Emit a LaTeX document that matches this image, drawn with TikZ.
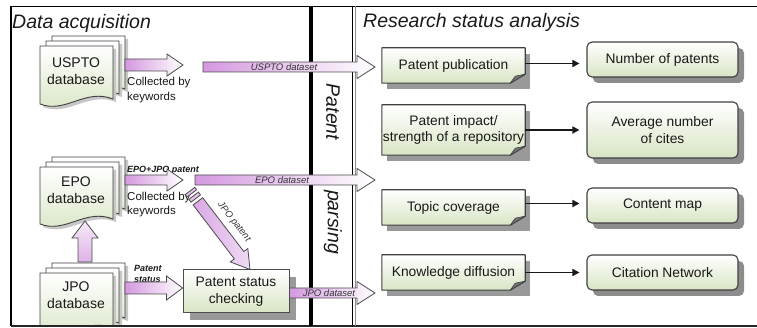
\documentclass[tikz,border=0pt]{standalone}
\usepackage{fontspec}
\setmainfont{Liberation Sans}
\usetikzlibrary{calc,shadows,backgrounds,arrows.meta}
\definecolor{arrowpink}{RGB}{212,152,224}
\definecolor{boxgreen}{RGB}{216,229,196}
\definecolor{txt}{RGB}{25,25,25}

\newcommand\fatarrow[6][]{%
  \coordinate (fa-n) at ($(#3)!#6!(#2)$);
  \path[fatbase,#1] ($(#2)!#4!90:(#3)$) -- ($(fa-n)!#4!90:(#3)$) -- ($(fa-n)!#5!90:(#3)$) -- (#3)
    -- ($(fa-n)!#5!-90:(#3)$) -- ($(fa-n)!#4!-90:(#3)$) -- ($(#2)!#4!-90:(#3)$) -- cycle;}

\newcommand\fatbar[4][]{%
  \path[fatbase,#1] ($(#2)!#4!90:(#3)$) -- ($(#3)!#4!-90:(#2)$) -- ($(#3)!#4!90:(#2)$) -- ($(#2)!#4!-90:(#3)$) -- cycle;}

\newcommand\docpage[4]{%
  \fill[black!22] (#1+3,#2+3) -- (#1+#3+3,#2+3) -- (#1+#3+3,#2+#4-2) .. controls (#1+0.62*#3+3,#2+#4-13) and (#1+0.35*#3+3,#2+#4+13) .. (#1+3,#2+#4+3) -- cycle;
  \path[docpage] (#1,#2) -- (#1+#3,#2) -- (#1+#3,#2+#4-5) .. controls (#1+0.62*#3,#2+#4-16) and (#1+0.35*#3,#2+#4+10) .. (#1,#2+#4) -- cycle;}

\newcommand\foldbox[1]{%
  \fill[black!40] ($(#1.north west)+(5,6)$) rectangle ($(#1.south east)+(5,6)$);
  \draw[black!75, line width=1.1pt, top color=white, bottom color=boxgreen, line join=round]
    (#1.north west) -- (#1.north east) -- ($(#1.south east)+(0,-9)$) -- ($(#1.south east)+(-15,0)$) -- (#1.south west) -- cycle;
  \filldraw[fill=black!55, draw=black!75, line width=0.6pt, line join=round]
    ($(#1.south east)+(0,-9)$) -- ($(#1.south east)+(-15,0)$) -- ($(#1.south east)+(-10,-7)$) -- cycle;}

\begin{document}
\begin{tikzpicture}[x=1pt,y=-1pt,
  lbl/.style={font=\fontsize{13.8}{16.5}\selectfont, align=center, text=txt},
  rbox/.style={lbl, draw=black!75, line width=1.1pt, rounded corners=5pt, top color=white, bottom color=boxgreen, minimum width=151pt, inner sep=1pt, drop shadow={shadow xshift=6pt, shadow yshift=-6pt, fill=black!45, opacity=1}},
  sbox/.style={lbl, draw=black!70, line width=1pt, top color=white, bottom color=boxgreen, inner sep=1pt, drop shadow={shadow xshift=7pt, shadow yshift=-7pt, fill=black!40, opacity=1}},
  fbox/.style={lbl, minimum width=143pt, inner sep=0pt},
  doctext/.style={font=\fontsize{14}{17}\selectfont, align=center, text=txt},
  docpage/.style={draw=black!75, line width=0.9pt, top color=white, bottom color=boxgreen},
  fatbase/.style={draw=black!70, line width=0.8pt, line join=miter},
  hpink/.style={left color=arrowpink, right color=white},
  smalltxt/.style={font=\fontsize{11.5}{14.5}\selectfont, align=left, text=txt, inner sep=0pt},
  dlabel/.style={font=\fontsize{9.5}{11}\selectfont\itshape, text=black!80, inner sep=0pt},
  blabel/.style={font=\fontsize{9}{11}\selectfont\bfseries\itshape, align=left, text=txt, inner sep=0pt},
  ttl/.style={font=\fontsize{19.5}{22}\selectfont\itshape, text=txt, inner sep=0pt},
  link/.style={line width=1.6pt, black!90, -{Triangle[length=7pt,width=7pt]}, shorten >=7pt}
]
\useasboundingbox (0,0) rectangle (757,328);

% frames
\draw[line width=1.5pt] (11,6.5) -- (757,6.5);
\draw[line width=1.8pt] (11,6) -- (11,326);
\draw[line width=1.8pt, black!85] (11,326) -- (757,326);
\draw[line width=3.5pt] (311,6) -- (311,326);
\draw[line width=1.2pt] (352.5,6) -- (352.5,326);
\draw[line width=1.2pt, black!45] (355.5,6) -- (355.5,326);

% titles
\node[ttl, anchor=base west] (t1) at (12,29) {Data acquisition};
\node[ttl, anchor=base west] (t2) at (363,28) {Research status analysis};
\node[ttl, rotate=-90] (mid1) at (333,112) {Patent};
\node[ttl, rotate=-90] (mid2) at (333,222) {parsing};

% documents
\docpage{52}{36}{73}{58}
\docpage{46}{41}{73}{58}
\docpage{40}{46}{73}{58}
\node[doctext] (uspto) at (76,71) {USPTO\\database};

\docpage{52}{157}{73}{57}
\docpage{46}{162}{73}{57}
\docpage{40}{167}{73}{57}
\node[doctext] (epo) at (76,190) {EPO\\database};

\begin{scope}
\clip (12,7) rectangle (310,325);
\docpage{52}{263}{73}{60}
\docpage{46}{268}{73}{60}
\docpage{40}{273}{73}{60}
\end{scope}
\node[doctext] (jpo) at (76,295) {JPO\\database};

% labels
\node[smalltxt, anchor=west] (ck1) at (127,90) {Collected by\\keywords};
\node[smalltxt, anchor=west] (ck2) at (127,204.5) {Collected by\\keywords};
\node[blabel, anchor=west] (ej) at (127,170) {EPO+JPO patent};
\node[blabel, anchor=west] (ps) at (134,273.5) {Patent\\status};

% status checking box
\node[sbox, minimum width=106pt, minimum height=43pt] (psc) at (236,291.5) {Patent status\\checking};

% fat arrow end points
\coordinate (u1) at (125,65);  \coordinate (u2) at (183,65);
\coordinate (ud1) at (203,67); \coordinate (ud2) at (375,67);
\coordinate (e1) at (125,180); \coordinate (e2) at (183,180);
\coordinate (ed1) at (195,180); \coordinate (ed2) at (375,180);
\coordinate (j1) at (85,262);  \coordinate (j2) at (85,221);
\coordinate (s1) at (125,288); \coordinate (s2) at (psc.west |- s1);
\coordinate (jd1) at (psc.east |- 0,293); \coordinate (jd2) at (375,293);
\coordinate (d1) at (190,191); \coordinate (d2) at (psc.north -| 250,0);

\fatarrow[hpink]{u1}{u2}{6pt}{11pt}{16pt}
\fatarrow[hpink]{ud1}{ud2}{5pt}{11.5pt}{18pt}
\fatarrow[hpink]{e1}{e2}{5pt}{11pt}{16pt}
\fatarrow[hpink]{ed1}{ed2}{5pt}{11.5pt}{18pt}
\fatarrow[bottom color=arrowpink!75, top color=arrowpink!20]{j1}{j2}{7pt}{13pt}{17pt}
\fatarrow[hpink]{s1}{s2}{6pt}{12pt}{16pt}
\fatarrow[hpink]{jd1}{jd2}{5pt}{11.5pt}{18pt}

% diagonal striped arrow
\coordinate (d1b) at ($(d1)!3pt!(d2)$);
\coordinate (d2a) at ($(d1)!6pt!(d2)$);
\coordinate (d2b) at ($(d1)!9.5pt!(d2)$);
\coordinate (d0) at ($(d1)!13pt!(d2)$);
\fatbar[fill=arrowpink!60]{d1}{d1b}{6pt}
\fatbar[fill=arrowpink!60]{d2a}{d2b}{6pt}
\fatarrow[left color=arrowpink!85, right color=arrowpink!35]{d0}{d2}{6pt}{11pt}{18pt}

% arrow labels
\node[dlabel] (lu) at (284,67) {USPTO dataset};
\node[dlabel] (le) at (282,180) {EPO dataset};
\node[dlabel] (lj) at (329,293) {JPO dataset};
\node[dlabel, rotate=-52] (ljp) at (234,222) {JPO patent};

% right panel, left column
\node[fbox, minimum height=35pt] (pp) at (453.5,65.5) {Patent publication};
\node[fbox, minimum height=50pt] (pi) at (453.5,130) {Patent impact/\\strength of a repository};
\node[fbox, minimum height=35pt] (tc) at (453.5,207.5) {Topic coverage};
\node[fbox, minimum height=35pt] (kd) at (453.5,272.5) {Knowledge diffusion};
\begin{pgfonlayer}{background}
\foldbox{pp}
\foldbox{pi}
\foldbox{tc}
\foldbox{kd}
\end{pgfonlayer}

% right column
\node[rbox, minimum height=35pt] (np) at (662.5,59.5) {Number of patents};
\node[rbox, minimum height=56pt] (ac) at (662.5,130) {Average number\\of cites};
\node[rbox, minimum height=35pt] (cm) at (662.5,205.5) {Content map};
\node[rbox, minimum height=35pt] (cn) at (662.5,272.5) {Citation Network};

\draw[link] ($(pp.east)+(0,-2)$) -- ($(pp.east -| np.west)+(0,-2)$);
\draw[link] (pi.east) -- (pi.east -| ac.west);
\draw[link] ($(tc.east)+(0,-4)$) -- ($(tc.east -| cm.west)+(0,-4)$);
\draw[link] (kd.east) -- (kd.east -| cn.west);
\end{tikzpicture}
\end{document}
